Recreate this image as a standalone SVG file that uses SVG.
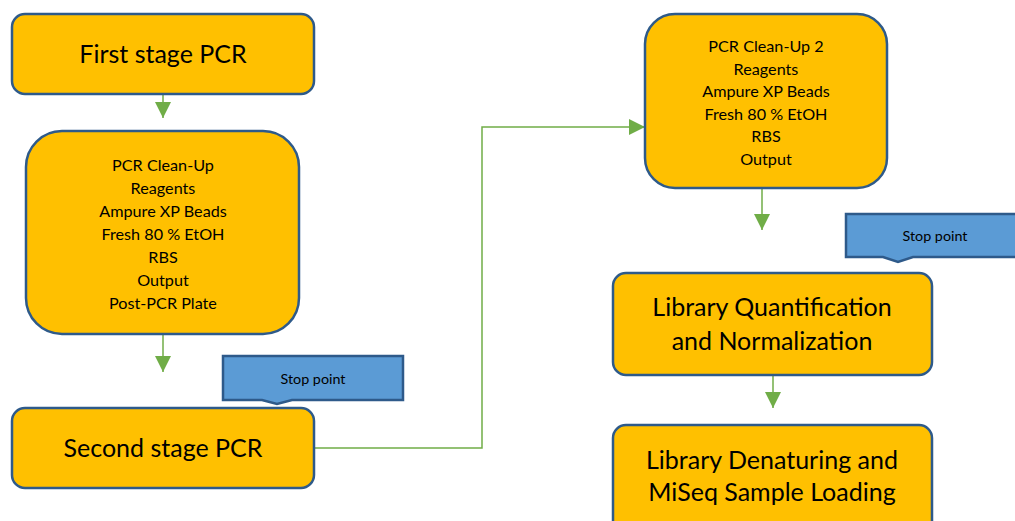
<svg xmlns="http://www.w3.org/2000/svg" width="1015" height="521" viewBox="0 0 1015 521">
<style>
.box{fill:#FFC000;stroke:#2E5A8A;stroke-width:2.5}
.stop{fill:#5B9BD5;stroke:#2E5A8A;stroke-width:2.5}
.big{font-family:Lato,"Liberation Sans",sans-serif;font-size:25px;fill:#000;text-anchor:middle}
.small{font-family:Lato,"Liberation Sans",sans-serif;font-size:16.2px;fill:#000;text-anchor:middle}
.tiny{font-family:Lato,"Liberation Sans",sans-serif;font-size:14.3px;fill:#000;text-anchor:middle}
.con{fill:none;stroke:#70AD47;stroke-width:1.5}
</style>
<defs>
<marker id="ah" markerWidth="16" markerHeight="16" refX="16" refY="8" orient="auto" markerUnits="userSpaceOnUse">
<path d="M0,0 L16,8 L0,16 Z" fill="#70AD47"/>
</marker>
</defs>
<g id="connectors">
<line class="con" x1="163" y1="95" x2="163" y2="118" marker-end="url(#ah)"/>
<line class="con" x1="163" y1="335" x2="163" y2="372" marker-end="url(#ah)"/>
<polyline class="con" points="314,448 482,448 482,127 645,127" marker-end="url(#ah)"/>
<line class="con" x1="762" y1="184" x2="762" y2="230" marker-end="url(#ah)"/>
<line class="con" x1="773" y1="376" x2="773" y2="408" marker-end="url(#ah)"/>
</g>
<g id="first-stage">
<rect class="box" x="12" y="14" width="302" height="80" rx="13"/>
<text class="big" x="163" y="63">First stage PCR</text>
</g>
<g id="cleanup-1">
<rect class="box" x="26" y="131" width="273" height="203" rx="36"/>
<text class="small" x="163" y="171">PCR Clean-Up</text>
<text class="small" x="163" y="194">Reagents</text>
<text class="small" x="163" y="217">Ampure XP Beads</text>
<text class="small" x="163" y="240">Fresh 80 % EtOH</text>
<text class="small" x="163" y="263">RBS</text>
<text class="small" x="163" y="286">Output</text>
<text class="small" x="163" y="309">Post-PCR Plate</text>
</g>
<g id="stop-1">
<path class="stop" d="M223,356 H403 V400 H292 L277,404 L262,400 H223 Z"/>
<text class="tiny" x="313" y="384">Stop point</text>
</g>
<g id="second-stage">
<rect class="box" x="12" y="408" width="302" height="80" rx="13"/>
<text class="big" x="163" y="457">Second stage PCR</text>
</g>
<g id="cleanup-2">
<rect class="box" x="645" y="14" width="242" height="174" rx="30"/>
<text class="small" x="766" y="52">PCR Clean-Up 2</text>
<text class="small" x="766" y="75">Reagents</text>
<text class="small" x="766" y="97">Ampure XP Beads</text>
<text class="small" x="766" y="120">Fresh 80 % EtOH</text>
<text class="small" x="766" y="142">RBS</text>
<text class="small" x="766" y="165">Output</text>
</g>
<g id="stop-2">
<path class="stop" d="M846,214 H1026 V257 H913 L898,262 L883,257 H846 Z"/>
<text class="tiny" x="935" y="241">Stop point</text>
</g>
<g id="quantification">
<rect class="box" x="613" y="273" width="319" height="102" rx="13"/>
<text class="big" x="772" y="316">Library Quantification</text>
<text class="big" x="772" y="350">and Normalization</text>
</g>
<g id="denaturing">
<rect class="box" x="613" y="425" width="319" height="110" rx="13"/>
<text class="big" x="772" y="469">Library Denaturing and</text>
<text class="big" x="772" y="501">MiSeq Sample Loading</text>
</g>
</svg>
